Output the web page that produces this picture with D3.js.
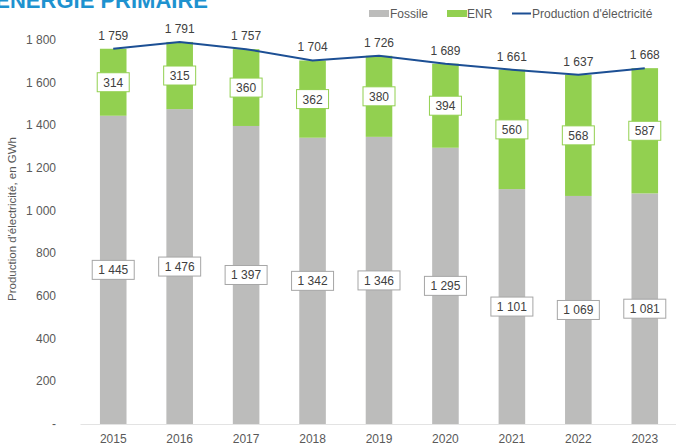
<!DOCTYPE html>
<html>
<head>
<meta charset="utf-8">
<script src="https://cdn.jsdelivr.net/npm/d3@7"></script>
<style>
  body { margin: 0; background: #fff; }
  text { font-family: "Liberation Sans", Arial, sans-serif; }
</style>
</head>
<body>
<div id="chart"></div>
<script>
// ---- data ----
var years = ["2015", "2016", "2017", "2018", "2019", "2020", "2021", "2022", "2023"];
var fossile = [1445, 1476, 1397, 1342, 1346, 1295, 1101, 1069, 1081];
var enr = [314, 315, 360, 362, 380, 394, 560, 568, 587];
var production = [1759, 1791, 1757, 1704, 1726, 1689, 1661, 1637, 1668];
var yTicks = [0, 200, 400, 600, 800, 1000, 1200, 1400, 1600, 1800];

var svgWidth = 676, svgHeight = 446;
var margin = { top: 40, right: -2, bottom: 22, left: 80 };

var svg = d3.select('#chart').append('svg')
    .attr('width', svgWidth)
    .attr('height', svgHeight);

var fmt = function(v) {
    return v === 0 ? "-" : d3.format(",")(v).replace(/,/g, "\u00a0");
};

var x = d3.scaleBand()
    .domain(years)
    .range([margin.left, svgWidth - margin.right])
    .paddingInner(0.6)
    .paddingOuter(0.3);

var y = d3.scaleLinear()
    .domain([0, 1800])
    .range([424, 40]);

// title (cut at the top like the source)
svg.append('text')
    .attr('x', 208).attr('y', 8)
    .attr('text-anchor', 'end')
    .style('font-size', '22px')
    .style('font-weight', 'bold')
    .attr('fill', '#1e92cf')
    .text('ÉNERGIE PRIMAIRE');

// y axis labels
svg.append('g')
    .selectAll('text')
    .data(yTicks)
    .enter().append('text')
    .attr('x', 56)
    .attr('y', d => y(d) + 4)
    .attr('text-anchor', 'end')
    .style('font-size', '12px')
    .attr('fill', '#595959')
    .text(fmt);

svg.append('text')
    .attr('transform', 'translate(16,' + 219 + ') rotate(-90)')
    .attr('text-anchor', 'middle')
    .style('font-size', '11.5px')
    .attr('fill', '#595959')
    .text("Production d'électricité, en GWh");

// x axis
var xAxis = svg.append('g')
    .attr('transform', 'translate(0,' + y(0) + ')')
    .call(d3.axisBottom(x).tickSize(0).tickPadding(10));
xAxis.select('.domain').attr('stroke', '#e3e3e3');
xAxis.selectAll('text')
    .style('font-size', '12px')
    .style('font-family', '"Liberation Sans", Arial, sans-serif')
    .attr('fill', '#595959');

// bars
var bars = svg.append('g');
bars.selectAll('rect.fos')
    .data(years)
    .enter().append('rect')
    .attr('class', 'fos')
    .attr('x', d => x(d))
    .attr('width', x.bandwidth())
    .attr('y', (d, i) => y(fossile[i]))
    .attr('height', (d, i) => y(0) - y(fossile[i]))
    .attr('fill', '#bcbcbb');

bars.selectAll('rect.enr')
    .data(years)
    .enter().append('rect')
    .attr('class', 'enr')
    .attr('x', d => x(d))
    .attr('width', x.bandwidth())
    .attr('y', (d, i) => y(fossile[i] + enr[i]))
    .attr('height', (d, i) => y(fossile[i]) - y(fossile[i] + enr[i]))
    .attr('fill', '#92d050');

// production line
var line = d3.line()
    .x((d, i) => x(years[i]) + x.bandwidth() / 2)
    .y(d => y(d));

svg.append('path')
    .datum(production)
    .attr('d', line)
    .attr('fill', 'none')
    .attr('stroke', '#1c4f94')
    .attr('stroke-width', 2);

svg.append('g')
    .selectAll('text')
    .data(production)
    .enter().append('text')
    .attr('x', (d, i) => x(years[i]) + x.bandwidth() / 2)
    .attr('y', d => y(d) - 9)
    .attr('text-anchor', 'middle')
    .style('font-size', '12px')
    .attr('fill', '#404040')
    .text(fmt);

// boxed labels
function boxLabels(vals, centerFn, stroke, w) {
    var g = svg.append('g').selectAll('g')
        .data(vals)
        .enter().append('g')
        .attr('transform', (d, i) => 'translate(' + (x(years[i]) + x.bandwidth() / 2) + ',' + centerFn(d, i) + ')');
    g.append('rect')
        .attr('x', -w / 2).attr('y', -9.5)
        .attr('width', w).attr('height', 19)
        .attr('fill', '#fff')
        .attr('stroke', stroke)
        .attr('stroke-width', 1);
    g.append('text')
        .attr('y', 4.5)
        .attr('text-anchor', 'middle')
        .style('font-size', '12px')
        .attr('fill', '#404040')
        .text(fmt);
}

boxLabels(fossile, (d, i) => (y(0) + y(fossile[i])) / 2, '#a6a6a6', 42);
boxLabels(enr, (d, i) => (y(fossile[i]) + y(fossile[i] + enr[i])) / 2, '#92d050', 32);

// legend
var legend = svg.append('g').style('font-size', '12px');
legend.append('rect').attr('x', 369).attr('y', 10).attr('width', 20).attr('height', 7).attr('fill', '#bcbcbb');
legend.append('text').attr('x', 390).attr('y', 18).attr('fill', '#595959').text('Fossile');
legend.append('rect').attr('x', 447).attr('y', 10).attr('width', 20).attr('height', 7).attr('fill', '#92d050');
legend.append('text').attr('x', 467).attr('y', 18).attr('fill', '#595959').text('ENR');
legend.append('line').attr('x1', 512).attr('x2', 531).attr('y1', 13.5).attr('y2', 13.5)
    .attr('stroke', '#1c4f94').attr('stroke-width', 2);
legend.append('text').attr('x', 532).attr('y', 18).attr('fill', '#595959').text("Production d'électricité");
</script>
</body>
</html>
